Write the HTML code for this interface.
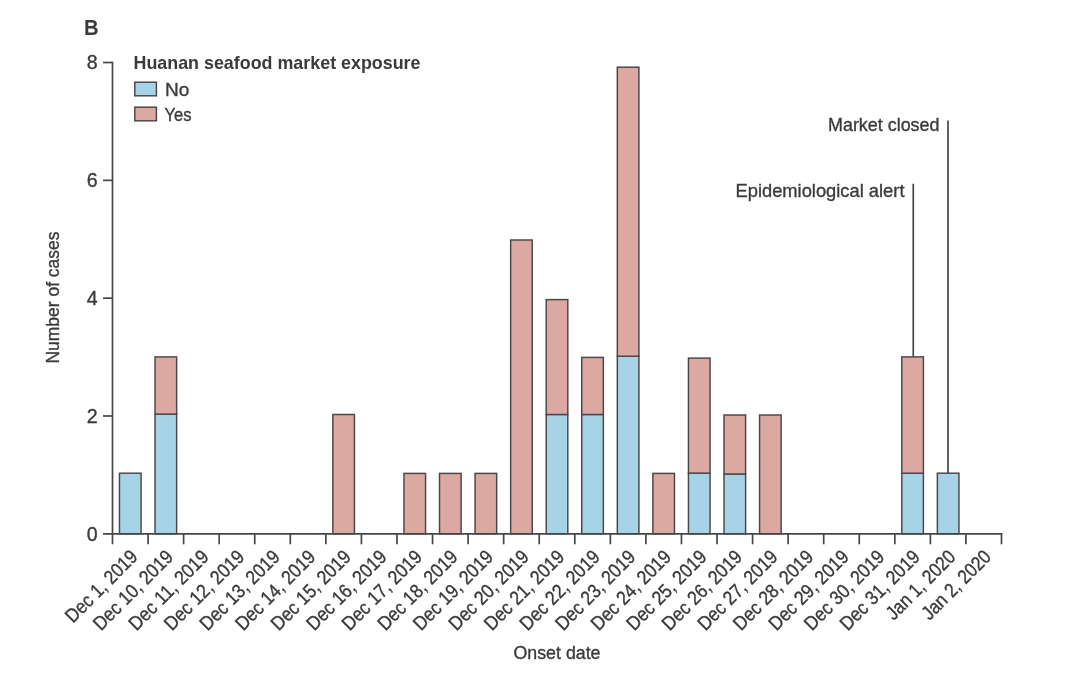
<!DOCTYPE html>
<html lang="en">
<head>
<meta charset="utf-8">
<title>Onset date by Huanan seafood market exposure</title>
<style>
html,body{margin:0;padding:0;background:#fff;}
body{width:1080px;height:680px;overflow:hidden;}
svg{display:block;filter:blur(0.5px);}
text{font-family:"Liberation Sans","DejaVu Sans",sans-serif;fill:#3a3a3a;}
.ax{stroke:#474747;stroke-width:1.7;fill:none;}
.bar{stroke:#4a4548;stroke-width:1.45px;}
.no{fill:#a6d3e6;}
.yes{fill:#dba8a2;}
.t{font-size:19.6px;stroke:#3a3a3a;stroke-width:0.35px;}
.w{font-size:19px;}
.b{font-weight:bold;}
</style>
</head>
<body>
<svg width="1080" height="680" viewBox="0 0 1080 680">
<rect x="0" y="0" width="1080" height="680" fill="#ffffff"/>
<text class="b" x="84" y="35" font-size="22.6" textLength="14.6" lengthAdjust="spacingAndGlyphs">B</text>
<g id="bars">
<rect class="bar no" x="119.48" y="473.20" width="21.6" height="60.60"/>
<rect class="bar no" x="155.04" y="414.10" width="21.6" height="119.70"/>
<rect class="bar yes" x="155.04" y="356.90" width="21.6" height="57.20"/>
<rect class="bar yes" x="332.84" y="414.50" width="21.6" height="119.30"/>
<rect class="bar yes" x="403.96" y="473.40" width="21.6" height="60.40"/>
<rect class="bar yes" x="439.52" y="473.40" width="21.6" height="60.40"/>
<rect class="bar yes" x="475.08" y="473.40" width="21.6" height="60.40"/>
<rect class="bar yes" x="510.64" y="240.00" width="21.6" height="293.80"/>
<rect class="bar no" x="546.20" y="414.50" width="21.6" height="119.30"/>
<rect class="bar yes" x="546.20" y="299.60" width="21.6" height="114.90"/>
<rect class="bar no" x="581.76" y="414.50" width="21.6" height="119.30"/>
<rect class="bar yes" x="581.76" y="357.40" width="21.6" height="57.10"/>
<rect class="bar no" x="617.32" y="356.20" width="21.6" height="177.60"/>
<rect class="bar yes" x="617.32" y="67.20" width="21.6" height="289.00"/>
<rect class="bar yes" x="652.88" y="473.40" width="21.6" height="60.40"/>
<rect class="bar no" x="688.44" y="473.10" width="21.6" height="60.70"/>
<rect class="bar yes" x="688.44" y="358.10" width="21.6" height="115.00"/>
<rect class="bar no" x="724.00" y="474.00" width="21.6" height="59.80"/>
<rect class="bar yes" x="724.00" y="415.00" width="21.6" height="59.00"/>
<rect class="bar yes" x="759.56" y="415.00" width="21.6" height="118.80"/>
<rect class="bar no" x="901.80" y="473.20" width="21.6" height="60.60"/>
<rect class="bar yes" x="901.80" y="356.90" width="21.6" height="116.30"/>
<rect class="bar no" x="937.36" y="473.20" width="21.6" height="60.60"/>
</g>
<g id="axes">
<path class="ax" d="M112.5 61.719999999999985 V533.8"/>
<path class="ax" d="M103 533.8 H1002.30"/>
<path class="ax" d="M103 415.98 H112.5"/>
<path class="ax" d="M103 298.16 H112.5"/>
<path class="ax" d="M103 180.34 H112.5"/>
<path class="ax" d="M103 62.52 H112.5"/>
<path class="ax" d="M112.50 533.8 V544.3"/>
<path class="ax" d="M148.06 533.8 V544.3"/>
<path class="ax" d="M183.62 533.8 V544.3"/>
<path class="ax" d="M219.18 533.8 V544.3"/>
<path class="ax" d="M254.74 533.8 V544.3"/>
<path class="ax" d="M290.30 533.8 V544.3"/>
<path class="ax" d="M325.86 533.8 V544.3"/>
<path class="ax" d="M361.42 533.8 V544.3"/>
<path class="ax" d="M396.98 533.8 V544.3"/>
<path class="ax" d="M432.54 533.8 V544.3"/>
<path class="ax" d="M468.10 533.8 V544.3"/>
<path class="ax" d="M503.66 533.8 V544.3"/>
<path class="ax" d="M539.22 533.8 V544.3"/>
<path class="ax" d="M574.78 533.8 V544.3"/>
<path class="ax" d="M610.34 533.8 V544.3"/>
<path class="ax" d="M645.90 533.8 V544.3"/>
<path class="ax" d="M681.46 533.8 V544.3"/>
<path class="ax" d="M717.02 533.8 V544.3"/>
<path class="ax" d="M752.58 533.8 V544.3"/>
<path class="ax" d="M788.14 533.8 V544.3"/>
<path class="ax" d="M823.70 533.8 V544.3"/>
<path class="ax" d="M859.26 533.8 V544.3"/>
<path class="ax" d="M894.82 533.8 V544.3"/>
<path class="ax" d="M930.38 533.8 V544.3"/>
<path class="ax" d="M965.94 533.8 V544.3"/>
<path class="ax" d="M1001.50 533.8 V544.3"/>
</g>
<g id="ylabels" class="t" text-anchor="end">
<text x="97.7" y="540.70">0</text>
<text x="97.7" y="422.88">2</text>
<text x="97.7" y="305.06">4</text>
<text x="97.7" y="187.24">6</text>
<text x="97.7" y="69.42">8</text>
</g>
<text class="t w" transform="translate(59 363.5) rotate(-90)" textLength="132" lengthAdjust="spacingAndGlyphs">Number of cases</text>
<g id="xlabels" class="t" text-anchor="end">
<text transform="translate(138.88 558.0) rotate(-45)" textLength="93" lengthAdjust="spacingAndGlyphs">Dec 1, 2019</text>
<text transform="translate(174.44 558.0) rotate(-45)" textLength="104" lengthAdjust="spacingAndGlyphs">Dec 10, 2019</text>
<text transform="translate(210.00 558.0) rotate(-45)" textLength="104" lengthAdjust="spacingAndGlyphs">Dec 11, 2019</text>
<text transform="translate(245.56 558.0) rotate(-45)" textLength="104" lengthAdjust="spacingAndGlyphs">Dec 12, 2019</text>
<text transform="translate(281.12 558.0) rotate(-45)" textLength="104" lengthAdjust="spacingAndGlyphs">Dec 13, 2019</text>
<text transform="translate(316.68 558.0) rotate(-45)" textLength="104" lengthAdjust="spacingAndGlyphs">Dec 14, 2019</text>
<text transform="translate(352.24 558.0) rotate(-45)" textLength="104" lengthAdjust="spacingAndGlyphs">Dec 15, 2019</text>
<text transform="translate(387.80 558.0) rotate(-45)" textLength="104" lengthAdjust="spacingAndGlyphs">Dec 16, 2019</text>
<text transform="translate(423.36 558.0) rotate(-45)" textLength="104" lengthAdjust="spacingAndGlyphs">Dec 17, 2019</text>
<text transform="translate(458.92 558.0) rotate(-45)" textLength="104" lengthAdjust="spacingAndGlyphs">Dec 18, 2019</text>
<text transform="translate(494.48 558.0) rotate(-45)" textLength="104" lengthAdjust="spacingAndGlyphs">Dec 19, 2019</text>
<text transform="translate(530.04 558.0) rotate(-45)" textLength="104" lengthAdjust="spacingAndGlyphs">Dec 20, 2019</text>
<text transform="translate(565.60 558.0) rotate(-45)" textLength="104" lengthAdjust="spacingAndGlyphs">Dec 21, 2019</text>
<text transform="translate(601.16 558.0) rotate(-45)" textLength="104" lengthAdjust="spacingAndGlyphs">Dec 22, 2019</text>
<text transform="translate(636.72 558.0) rotate(-45)" textLength="104" lengthAdjust="spacingAndGlyphs">Dec 23, 2019</text>
<text transform="translate(672.28 558.0) rotate(-45)" textLength="104" lengthAdjust="spacingAndGlyphs">Dec 24, 2019</text>
<text transform="translate(707.84 558.0) rotate(-45)" textLength="104" lengthAdjust="spacingAndGlyphs">Dec 25, 2019</text>
<text transform="translate(743.40 558.0) rotate(-45)" textLength="104" lengthAdjust="spacingAndGlyphs">Dec 26, 2019</text>
<text transform="translate(778.96 558.0) rotate(-45)" textLength="104" lengthAdjust="spacingAndGlyphs">Dec 27, 2019</text>
<text transform="translate(814.52 558.0) rotate(-45)" textLength="104" lengthAdjust="spacingAndGlyphs">Dec 28, 2019</text>
<text transform="translate(850.08 558.0) rotate(-45)" textLength="104" lengthAdjust="spacingAndGlyphs">Dec 29, 2019</text>
<text transform="translate(885.64 558.0) rotate(-45)" textLength="104" lengthAdjust="spacingAndGlyphs">Dec 30, 2019</text>
<text transform="translate(921.20 558.0) rotate(-45)" textLength="104" lengthAdjust="spacingAndGlyphs">Dec 31, 2019</text>
<text transform="translate(956.76 558.0) rotate(-45)" textLength="89" lengthAdjust="spacingAndGlyphs">Jan 1, 2020</text>
<text transform="translate(992.32 558.0) rotate(-45)" textLength="89" lengthAdjust="spacingAndGlyphs">Jan 2, 2020</text>
</g>
<text class="t w" x="513.5" y="658.5" textLength="87" lengthAdjust="spacingAndGlyphs">Onset date</text>
<g id="legend">
<text class="b" x="133.5" y="68.7" font-size="19" textLength="287" lengthAdjust="spacingAndGlyphs">Huanan seafood market exposure</text>
<rect class="bar no" x="134.8" y="82.2" width="21.6" height="13.6"/>
<text class="t w" x="165" y="96" textLength="24.3" lengthAdjust="spacingAndGlyphs">No</text>
<rect class="bar yes" x="134.8" y="107.2" width="21.6" height="13.6"/>
<text class="t w" x="164.5" y="121.2" textLength="27" lengthAdjust="spacingAndGlyphs">Yes</text>
</g>
<g id="annotations">
<path class="ax" d="M948 120.5 V473.2"/>
<path class="ax" d="M913.25 183.75 V356.9"/>
<text class="t w" x="828" y="131.25" textLength="111.5" lengthAdjust="spacingAndGlyphs">Market closed</text>
<text class="t w" x="735.5" y="197" textLength="169" lengthAdjust="spacingAndGlyphs">Epidemiological alert</text>
</g>
</svg>
</body>
</html>
